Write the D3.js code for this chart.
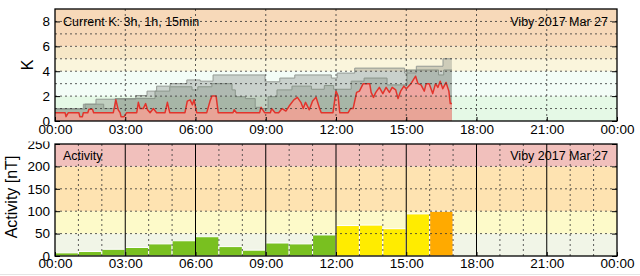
<!DOCTYPE html>
<html>
<head>
<meta charset="utf-8">
<script src="https://cdn.jsdelivr.net/npm/d3@7"></script>
<style>
  body { margin: 0; background: #fff; }
  svg { display: block; font-family: "Liberation Sans", Arial, sans-serif; }
</style>
</head>
<body>
<svg id="chart"></svg>
<script>
// tick labels
var xTickHours = [0, 3, 6, 9, 12, 15, 18, 21, 24];
var xTickLabels = ["00:00", "03:00", "06:00", "09:00", "12:00", "15:00", "18:00", "21:00", "00:00"];
var kTicks = [0, 2, 4, 6, 8];
var actTicks = [0, 50, 100, 150, 200, 250];

// background levels
var kBandEdges = [0, 2, 4, 5, 6, 9];
var actBandEdges = [0, 50, 100, 200, 250];

// running K, 3 hour window (step changes)
var k3Hours = [0, 1.21, 1.75, 3.45, 3.93, 4.34, 4.92, 5.63, 6.2, 6.75, 8.97, 9.6, 10.24, 11.8, 12.05, 12.8, 14.93, 15.43, 16.57];
var k3Values = [1.0, 1.35, 1.75, 2.05, 2.4, 2.8, 3.0, 3.3, 3.2, 3.7, 3.15, 3.45, 3.7, 3.45, 3.85, 4.25, 3.85, 4.4, 5.0];

// running K, 1 hour window (step changes)
var k1Hours = [0, 1.28, 2.08, 2.57, 4.27, 4.9, 5.85, 6.1, 6.7, 7.56, 7.7, 8.13, 8.55, 8.75, 9.1, 9.48, 10.12, 10.95, 11.5, 11.9, 12.65, 13.2, 14.18, 15.03, 16.38, 16.6];
var k1Values = [0.95, 1.35, 1.0, 1.8, 2.4, 2.75, 2.5, 2.75, 3.0, 2.5, 1.95, 1.8, 1.1, 1.0, 1.95, 2.5, 2.8, 2.55, 2.85, 2.55, 3.2, 3.45, 2.9, 4.1, 3.7, 4.1];

// running K, 15 min window
var k15Hours = [0, 0.43, 0.47, 0.57, 1.02, 1.06, 1.17, 1.21, 1.4, 1.45, 1.6, 1.65, 2.49, 2.6, 2.7, 2.78, 2.82, 2.95, 3.06,
  3.49, 3.56, 3.63, 3.77, 3.87, 3.95, 4.06, 4.2, 4.34, 4.7, 4.8, 4.9, 5.55, 5.65, 5.77, 5.87, 5.94, 6.05,
  6.48, 6.62, 6.7, 6.88, 6.97, 7.6, 7.65, 7.75, 8.74, 8.8, 8.95, 9.2, 9.25, 9.4, 9.55, 9.7, 9.86, 10.0,
  10.2, 10.35, 10.5, 10.6, 10.7, 10.86, 11.0, 11.15, 11.3, 11.37, 11.87, 12.0, 12.09, 12.16, 12.52, 12.62,
  12.73, 12.88, 13.0, 13.16, 13.44, 13.5, 13.6, 13.7, 13.85, 14.0, 14.14, 14.28, 14.4, 14.55, 14.65, 14.76,
  14.9, 15.0, 15.2, 15.4, 15.5, 15.63, 15.77, 15.85, 15.98, 16.13, 16.25, 16.35, 16.45, 16.56, 16.7, 16.82, 16.88, 16.95];
var k15Values = [0.67, 0.67, 0.35, 0.67, 0.67, 0.35, 0.35, 0.67, 0.67, 0.95, 0.95, 0.67, 0.67, 1.7, 0.9, 0.67, 0.35, 0.35, 0.67,
  0.67, 1.5, 1.0, 1.0, 1.4, 0.9, 0.67, 1.0, 0.67, 0.67, 1.5, 0.67, 0.67, 1.6, 1.7, 1.3, 1.7, 0.67,
  0.67, 1.6, 2.0, 2.0, 0.67, 0.67, 0.9, 0.67, 0.67, 1.1, 0.67, 0.67, 1.0, 0.67, 0.67, 1.0, 0.8, 1.2,
  1.7, 1.9, 1.5, 1.0, 1.5, 0.9, 1.6, 1.9, 1.0, 0.67, 0.67, 2.4, 2.0, 0.67, 0.67, 1.0,
  1.0, 2.3, 2.4, 3.0, 3.0, 2.3, 1.9, 2.3, 2.7, 2.2, 2.7, 2.3, 2.7, 2.5, 1.8, 2.4,
  2.8, 2.6, 3.0, 3.6, 3.0, 2.9, 2.4, 3.0, 3.0, 2.2, 3.0, 2.7, 3.2, 2.6, 3.1, 2.4, 1.4, 1.4];
var dataEnd = 16.95;

// hourly activity [nT]
var actHours = [0, 1, 2, 3, 4, 5, 6, 7, 8, 9, 10, 11, 12, 13, 14, 15, 16];
var actValues = [7, 10, 15, 19, 27, 34, 43, 21, 13, 29, 27, 47, 68, 69, 61, 94, 100];

var kBandColors = ["#e5f9e6", "#f3fdf7", "#faf5dc", "#f6e7c7", "#f7d9b9"];
var actBandColors = ["#f1f5e7", "#fdfac9", "#fee3b1", "#f1c0bc"];

var svg = d3.select("#chart").attr("width", 640).attr("height", 276);
svg.append("rect").attr("width", 640).attr("height", 276).attr("fill", "#fff");

var x = d3.scaleLinear().domain([0, 24]).range([55, 617]);
var yK = d3.scaleLinear().domain([0, 9]).range([121, 9]);
var yA = d3.scaleLinear().domain([0, 250]).range([256, 144]);

function zipStep(hours, values) {
  var pts = hours.map(function (h, i) { return [h, values[i]]; });
  pts.push([dataEnd, values[values.length - 1]]);
  return pts;
}

drawK();
drawActivity();

function drawK() {
  var g = svg.append("g");

  // coloured levels
  g.selectAll("rect.band").data(kBandColors).enter().append("rect")
    .attr("x", x(0)).attr("width", x(24) - x(0))
    .attr("y", function (d, i) { return yK(kBandEdges[i + 1]); })
    .attr("height", function (d, i) { return yK(kBandEdges[i]) - yK(kBandEdges[i + 1]); })
    .attr("fill", function (d) { return d; });

  var k3 = zipStep(k3Hours, k3Values);
  var k1 = zipStep(k1Hours, k1Values);
  var k15 = k15Hours.map(function (h, i) { return [h, k15Values[i]]; });

  var stepArea = d3.area().curve(d3.curveStepAfter)
    .x(function (d) { return x(d[0]); }).y0(yK(0)).y1(function (d) { return yK(d[1]); });
  var stepLine = d3.line().curve(d3.curveStepAfter)
    .x(function (d) { return x(d[0]); }).y(function (d) { return yK(d[1]); });
  var area15 = d3.area()
    .x(function (d) { return x(d[0]); }).y0(yK(0)).y1(function (d) { return yK(d[1]); });
  var line15 = d3.line()
    .x(function (d) { return x(d[0]); }).y(function (d) { return yK(d[1]); });

  var defs = svg.append("defs");
  var m3 = defs.append("mask").attr("id", "mask3").attr("maskUnits", "userSpaceOnUse")
    .attr("x", 0).attr("y", 0).attr("width", 640).attr("height", 276);
  m3.append("rect").attr("width", 640).attr("height", 276).attr("fill", "#fff");
  m3.append("path").datum(k1).attr("d", stepArea).attr("fill", "#000");
  var m1 = defs.append("mask").attr("id", "mask1").attr("maskUnits", "userSpaceOnUse")
    .attr("x", 0).attr("y", 0).attr("width", 640).attr("height", 276);
  m1.append("rect").attr("width", 640).attr("height", 276).attr("fill", "#fff");
  m1.append("path").datum(k15).attr("d", area15).attr("fill", "#000");

  g.append("path").datum(k3).attr("d", stepArea)
    .attr("fill", "rgb(105,110,105)").attr("fill-opacity", 0.3)
    .attr("mask", "url(#mask3)");
  g.append("path").datum(k1).attr("d", stepArea)
    .attr("fill", "rgb(80,90,80)").attr("fill-opacity", 0.42)
    .attr("mask", "url(#mask1)");
  g.append("path").datum(k15).attr("d", area15)
    .attr("fill", "rgb(235,60,55)").attr("fill-opacity", 0.45);

  g.append("path").datum(k3).attr("d", stepLine)
    .attr("fill", "none").attr("stroke", "#949a94").attr("stroke-width", 1);
  g.append("path").datum(k1).attr("d", stepLine)
    .attr("fill", "none").attr("stroke", "#8a958a").attr("stroke-width", 1);
  g.append("path").datum(k15).attr("d", line15)
    .attr("fill", "none").attr("stroke", "#e2342c").attr("stroke-width", 1.5)
    .attr("stroke-linejoin", "round");

  // dotted grid
  g.selectAll("line.hgrid").data(d3.range(1, 9)).enter().append("line")
    .attr("x1", x(0)).attr("x2", x(24))
    .attr("y1", function (d) { return yK(d); }).attr("y2", function (d) { return yK(d); })
    .attr("stroke", "#333").attr("stroke-width", 0.8).attr("stroke-dasharray", "2,3");
  g.selectAll("line.vgrid").data(xTickHours.slice(1, -1)).enter().append("line")
    .attr("x1", function (d) { return x(d); }).attr("x2", function (d) { return x(d); })
    .attr("y1", yK(9)).attr("y2", yK(0))
    .attr("stroke", "#333").attr("stroke-width", 0.8).attr("stroke-dasharray", "2,3");

  // axes
  var ax = g.append("g").attr("transform", "translate(" + x(0) + ",0)")
    .call(d3.axisLeft(yK).tickValues(kTicks).tickSizeInner(-5).tickSizeOuter(0).tickPadding(5));
  var axr = g.append("g").attr("transform", "translate(" + x(24) + ",0)")
    .call(d3.axisRight(yK).tickValues(kTicks).tickSizeInner(-5).tickSizeOuter(0).tickFormat(""));
  var axb = g.append("g").attr("transform", "translate(0," + yK(0) + ")")
    .call(d3.axisBottom(x).tickValues(xTickHours).tickSizeInner(-4).tickSizeOuter(0).tickPadding(3)
      .tickFormat(function (d, i) { return xTickLabels[i]; }));
  [ax, axr, axb].forEach(function (a) {
    a.select(".domain").remove();
    a.selectAll("text").attr("font-size", 13.5).attr("font-family", "Liberation Sans, Arial, sans-serif").attr("fill", "#000");
  });

  g.append("rect").attr("x", x(0)).attr("y", yK(9))
    .attr("width", x(24) - x(0)).attr("height", yK(0) - yK(9))
    .attr("fill", "none").attr("stroke", "#000").attr("stroke-width", 1.3);

  g.append("text").attr("x", 63).attr("y", 25.5).attr("font-size", 12.5).text("Current K: 3h, 1h, 15min");
  g.append("text").attr("x", 608).attr("y", 25.5).attr("font-size", 12.5)
    .attr("text-anchor", "end").text("Viby 2017 Mar 27");
  g.append("text").attr("transform", "translate(33,65) rotate(-90)")
    .attr("text-anchor", "middle").attr("font-size", 16).text("K");
}

function drawActivity() {
  var clip = svg.select("defs").append("clipPath").attr("id", "clipAct");
  clip.append("rect").attr("x", 0).attr("y", 141.5).attr("width", 640).attr("height", 140);
  var g = svg.append("g").attr("clip-path", "url(#clipAct)");

  g.selectAll("rect.band").data(actBandColors).enter().append("rect")
    .attr("x", x(0)).attr("width", x(24) - x(0))
    .attr("y", function (d, i) { return yA(actBandEdges[i + 1]); })
    .attr("height", function (d, i) { return yA(actBandEdges[i]) - yA(actBandEdges[i + 1]); })
    .attr("fill", function (d) { return d; });

  var barColor = d3.scaleThreshold().domain([50, 100]).range(["#79c020", "#ffec00", "#ffaa00"]);
  g.selectAll("rect.bar").data(actValues).enter().append("rect")
    .attr("x", function (d, i) { return x(actHours[i]); })
    .attr("width", function (d, i) { return x(actHours[i] + 1) - x(actHours[i]); })
    .attr("y", function (d) { return yA(d); })
    .attr("height", function (d) { return yA(0) - yA(d); })
    .attr("fill", function (d) { return barColor(d); })
    .attr("stroke", "#fff").attr("stroke-width", 1);

  g.selectAll("line.hgrid").data(actTicks.slice(1, -1)).enter().append("line")
    .attr("x1", x(0)).attr("x2", x(24))
    .attr("y1", function (d) { return yA(d); }).attr("y2", function (d) { return yA(d); })
    .attr("stroke", "#333").attr("stroke-width", 0.8).attr("stroke-dasharray", "2,3");
  g.selectAll("line.vgrid").data(d3.range(1, 24)).enter().append("line")
    .attr("x1", function (d) { return x(d); }).attr("x2", function (d) { return x(d); })
    .attr("y1", yA(250)).attr("y2", yA(0))
    .attr("stroke", function (d) { return d % 3 === 0 ? "#000" : "#333"; })
    .attr("stroke-width", function (d) { return d % 3 === 0 ? 1 : 0.8; })
    .attr("stroke-dasharray", function (d) { return d % 3 === 0 ? null : "2,3"; });

  var ax = g.append("g").attr("transform", "translate(" + x(0) + ",0)")
    .call(d3.axisLeft(yA).tickValues(actTicks).tickSizeInner(-5).tickSizeOuter(0).tickPadding(5));
  var axr = g.append("g").attr("transform", "translate(" + x(24) + ",0)")
    .call(d3.axisRight(yA).tickValues(actTicks).tickSizeInner(-5).tickSizeOuter(0).tickFormat(""));
  var axb = g.append("g").attr("transform", "translate(0," + yA(0) + ")")
    .call(d3.axisBottom(x).tickValues(xTickHours).tickSizeInner(-4).tickSizeOuter(0).tickPadding(2.5)
      .tickFormat(function (d, i) { return xTickLabels[i]; }));
  [ax, axr, axb].forEach(function (a) {
    a.select(".domain").remove();
    a.selectAll("text").attr("font-size", 13.5).attr("font-family", "Liberation Sans, Arial, sans-serif").attr("fill", "#000");
  });

  g.append("rect").attr("x", x(0)).attr("y", yA(250))
    .attr("width", x(24) - x(0)).attr("height", yA(0) - yA(250))
    .attr("fill", "none").attr("stroke", "#000").attr("stroke-width", 1.3);

  g.append("text").attr("x", 63).attr("y", 159.5).attr("font-size", 12.5).text("Activity");
  g.append("text").attr("x", 608).attr("y", 159.5).attr("font-size", 12.5)
    .attr("text-anchor", "end").text("Viby 2017 Mar 27");
  g.append("text").attr("transform", "translate(17,197) rotate(-90)")
    .attr("text-anchor", "middle").attr("font-size", 16).text("Activity [nT]");

  svg.append("line").attr("x1", 0).attr("x2", 640).attr("y1", 274.5).attr("y2", 274.5)
    .attr("stroke", "#e4e4e4").attr("stroke-width", 1);
}
</script>
</body>
</html>
